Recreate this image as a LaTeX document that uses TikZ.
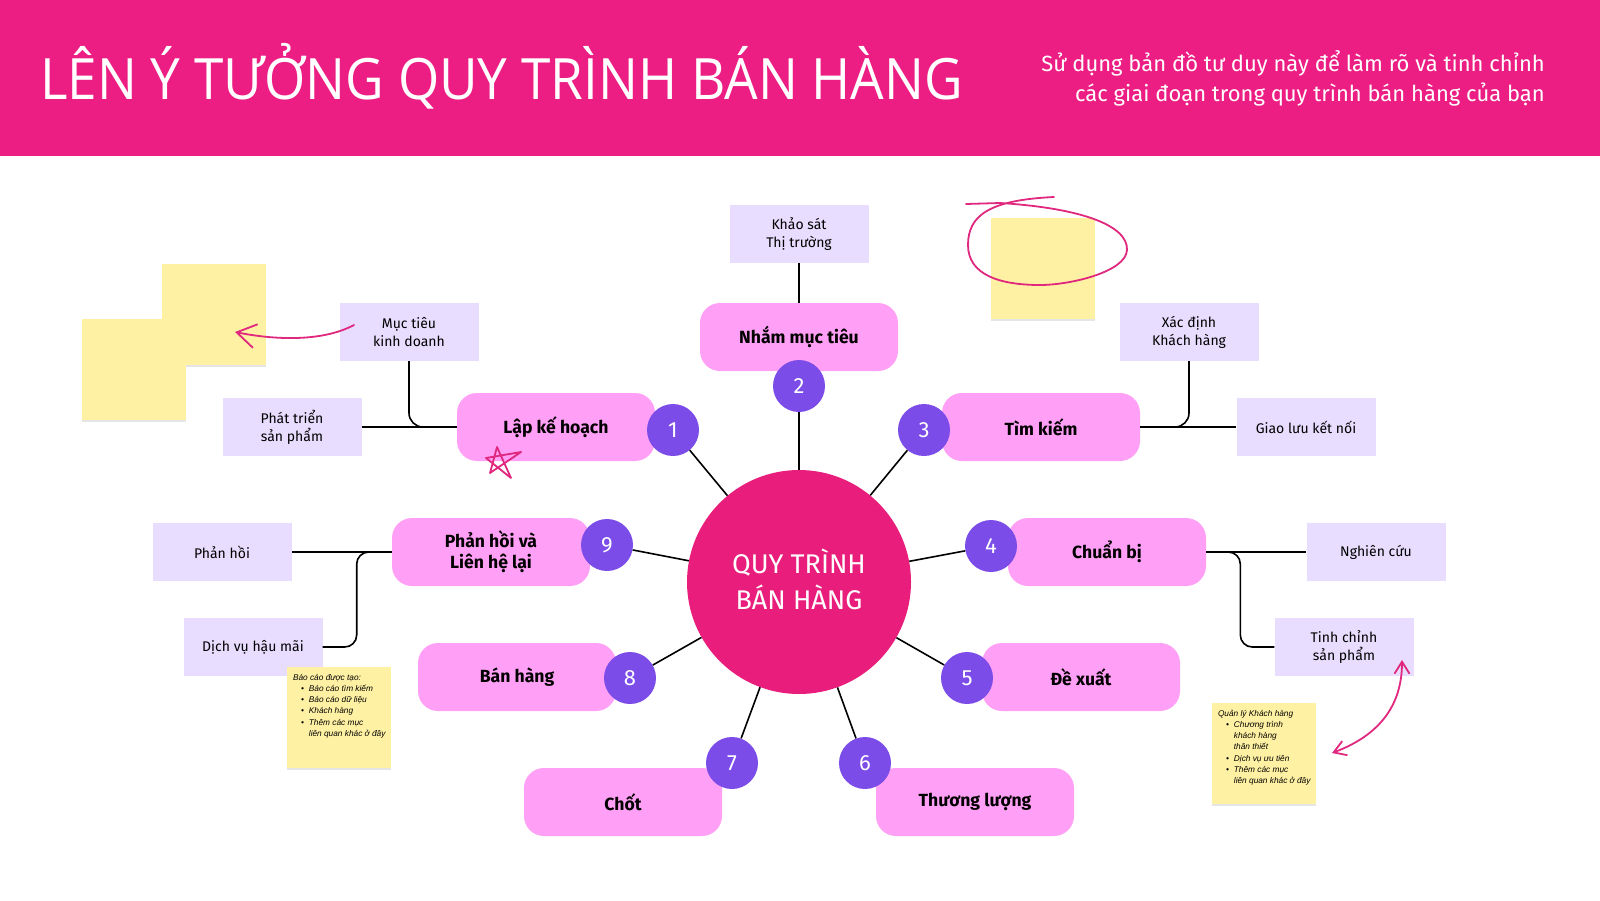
\documentclass[tikz,border=0pt]{standalone}
\usepackage{fontspec}
\setmainfont{Fira Sans}
\newfontfamily\titlefont{Open Sans}
\newfontfamily\notefont{Liberation Sans}
\usetikzlibrary{positioning, arrows.meta}

\definecolor{headpink}{HTML}{EC1E84}
\definecolor{corepink}{HTML}{E91E7C}
\definecolor{stagepink}{HTML}{FF9FF5}
\definecolor{numpurple}{HTML}{7B4CE8}
\definecolor{idealav}{HTML}{E8DDFE}
\definecolor{noteyellow}{HTML}{FFF1A3}
\definecolor{penpink}{HTML}{E0287F}

\tikzset{
  stage/.style={fill=stagepink, rounded corners=20pt, minimum width=198pt, minimum height=68pt, align=center, font=\fontsize{17.6}{21}\selectfont\bfseries},
  num/.style={circle, fill=numpurple, minimum size=52pt, inner sep=0pt, text=white, font=\fontsize{22}{22}\selectfont},
  idea/.style={fill=idealav, minimum width=139pt, minimum height=58pt, inner sep=2pt, align=center, font=\fontsize{14}{18}\selectfont},
  sticky/.style={fill=noteyellow, minimum width=104pt, minimum height=101pt, inner sep=0pt, preaction={fill=black!10, transform canvas={yshift=-2pt}}},
  notetext/.style={anchor=north west, inner sep=0pt, font=\notefont\itshape\fontsize{8.3}{11.2}\selectfont},
  link/.style={draw, line width=1.6pt},
  pen/.style={draw=penpink, line width=1.8pt, line cap=round, line join=round},
}

\begin{document}
\begin{tikzpicture}[x=1pt, y=-1pt]
            \useasboundingbox (0,0) rectangle (1600,900);
            % header band
            \fill [headpink] (0,0) rectangle (1600,156);
            \node [anchor=base west, inner sep=0pt, text=white, font=\titlefont\fontsize{57}{60}\selectfont] (title) at (40,99) {\scalebox{0.93}[1]{LÊN Ý TƯỞNG QUY TRÌNH BÁN HÀNG}};
            \node [anchor=north east, inner sep=0pt, align=right, text=white, font=\fontsize{22}{30}\selectfont] (subtitle) at (1545,50) {Sử dụng bản đồ tư duy này để làm rõ và tinh chỉnh\\các giai đoạn trong quy trình bán hàng của bạn};

            % sticky notes without text
            \node [sticky] (noteA) at (214,314) {};
            \node [sticky] (noteB) at (134,369) {};
            \node [sticky] (noteC) at (1043,268) {};

            % centre of the map
            \node [circle, fill=corepink, minimum size=224pt] (core) at (799,582) {};
            \node [align=center, text=white, font=\fontsize{27}{36}\selectfont] (coretext) at (799,579) {QUY TRÌNH\\BÁN HÀNG};

            % the nine stages
            \node [stage] (plan) at (556,427) {Lập kế hoạch};
            \node [stage] (target) at (799,337) {Nhắm mục tiêu};
            \node [stage] (search) at (1041,427) {Tìm kiếm};
            \node [stage] (prepare) at (1107,552) {Chuẩn bị};
            \node [stage] (propose) at (1081,677) {Đề xuất};
            \node [stage] (negotiate) at (975,802) {Thương lượng};
            \node [stage] (close) at (623,802) {Chốt};
            \node [stage] (sell) at (517,677) {Bán hàng};
            \node [stage] (feedback) at (491,552) {Phản hồi và\\Liên hệ lại};

            % numbers on the stages
            \node [num] (n1) at (673,430) {1};
            \node [num] (n2) at (799,386) {2};
            \node [num] (n3) at (924,430) {3};
            \node [num] (n4) at (991,546) {4};
            \node [num] (n5) at (967,678) {5};
            \node [num] (n6) at (865,763) {6};
            \node [num] (n7) at (732,763) {7};
            \node [num] (n8) at (630,678) {8};
            \node [num] (n9) at (607,545) {9};
            \foreach \n in {1,...,9}
              \draw [link] (core) -- (n\n);

            % ideas around the stages
            \node [idea] (survey) at (799,234) {Khảo sát\\Thị trường};
            \node [idea] (goals) at (409,332) {Mục tiêu\\kinh doanh};
            \node [idea] (product) at (292,427) {Phát triển\\sản phẩm};
            \node [idea] (identify) at (1189,332) {Xác định\\Khách hàng};
            \node [idea] (network) at (1306,427) {Giao lưu kết nối};
            \node [idea] (reply) at (222,552) {Phản hồi};
            \node [idea] (aftercare) at (253,647) {Dịch vụ hậu mãi};
            \node [idea] (research) at (1376,552) {Nghiên cứu};
            \node [idea] (refine) at (1344,647) {Tinh chỉnh\\sản phẩm};

            \draw [link] (survey) -- (target);
            \draw [link] (plan) -- (product);
            \draw [link, rounded corners=14pt] (goals.south) |- (plan.west);
            \draw [link] (search) -- (network);
            \draw [link, rounded corners=14pt] (identify.south) |- (search.east);
            \draw [link] (feedback) -- (reply);
            \draw [link, rounded corners=12pt] (aftercare.east) -- ++(34,0) |- (feedback.west);
            \draw [link] (prepare) -- (research);
            \draw [link, rounded corners=12pt] (refine.west) -- ++(-34,0) |- (prepare.east);

            % sticky notes with text, on top of the ideas
            \node [sticky] (reports) at (339,717) {};
            \node [sticky] (clients) at (1264,753) {};
            \node [notetext] (reportstext) at ([xshift=6pt, yshift=-6pt]reports.north west) {%
              \begin{tabular}{@{\hspace{8pt}}l@{\hspace{5pt}}l@{}}
                \multicolumn{2}{@{}l@{}}{Báo cáo được tạo:}\\
                \textbullet & Báo cáo tìm kiếm\\
                \textbullet & Báo cáo dữ liệu\\
                \textbullet & Khách hàng\\
                \textbullet & Thêm các mục\\
                & liên quan khác ở đây
              \end{tabular}};
            \node [notetext] (clientstext) at ([xshift=6pt, yshift=-6pt]clients.north west) {%
              \begin{tabular}{@{\hspace{8pt}}l@{\hspace{5pt}}l@{}}
                \multicolumn{2}{@{}l@{}}{Quản lý Khách hàng}\\
                \textbullet & Chương trình\\
                & khách hàng\\
                & thân thiết\\
                \textbullet & Dịch vụ ưu tiên\\
                \textbullet & Thêm các mục\\
                & liên quan khác ở đây
              \end{tabular}};

            % pen scribbles
            \coordinate (penA) at (354,325);
            \coordinate (penB) at (235,332);
            \draw [pen, -{Straight Barb[length=19pt, width=24pt]}] (penA) .. controls (322,342) and (275,340) .. (penB);
            \coordinate (penC) at (1402,660);
            \coordinate (penD) at (1332,753);
            \draw [pen, {Straight Barb[length=12pt, width=15pt]}-{Straight Barb[length=12pt, width=15pt]}] (penC) .. controls (1402,705) and (1380,735) .. (penD);
            \draw [pen] (966,204) -- (1000,203) .. controls (1080,208) and (1128,225) .. (1127,250) .. controls (1126,272) and (1070,285) .. (1040,285) .. controls (1000,285) and (968,275) .. (968,245) .. controls (968,215) and (990,200) .. (1054,197);
            \draw [pen] (497,447) -- (511,478) -- (486,458) -- (521,452) -- (490,473) -- cycle;
        \end{tikzpicture}
\end{document}
